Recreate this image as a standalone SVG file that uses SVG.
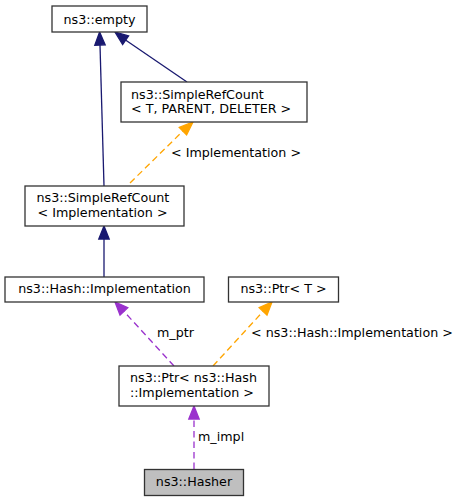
<svg xmlns="http://www.w3.org/2000/svg" width="462" height="501" viewBox="0 0 462 501">
<style>
.box{fill:#fff;stroke:#333;stroke-width:1.3}
.t{font-family:"DejaVu Sans",sans-serif;font-size:12.7px;fill:#000}
.m{text-anchor:middle}
.nav{stroke:#191970;stroke-width:1.3;fill:none}
.or{stroke:#ffa500;stroke-width:1.3;fill:none;stroke-dasharray:6.5,4}
.pu{stroke:#9a32cd;stroke-width:1.3;fill:none;stroke-dasharray:6.5,4}
</style>
<rect width="462" height="501" fill="#fff"/>
<g id="connectors">
  <line class="nav" x1="104" y1="186" x2="100" y2="45"/>
  <polygon points="94.8,45.2 99.6,32 105.2,44.8" fill="#191970" stroke="#191970" stroke-width="1.3"/>
  <line class="nav" x1="187" y1="82" x2="125.5" y2="40"/>
  <polygon points="122.6,44.5 115,32 128.6,35.9" fill="#191970" stroke="#191970" stroke-width="1.3"/>
  <line class="or" x1="130" y1="183" x2="183" y2="131"/>
  <polygon points="179.3,127.4 193,122 186.6,135" fill="#ffa500" stroke="#ffa500" stroke-width="1.3"/>
  <text class="t" x="171" y="157">&lt; Implementation &gt;</text>
  <line class="nav" x1="104" y1="277" x2="104" y2="239"/>
  <polygon points="98.8,239 104,226 109.2,239" fill="#191970" stroke="#191970" stroke-width="1.3"/>
  <line class="pu" x1="174" y1="366" x2="124" y2="311.5"/>
  <polygon points="120,315 115,302 127.8,307.6" fill="#9a32cd" stroke="#9a32cd" stroke-width="1.3"/>
  <text class="t" x="157" y="337">m_ptr</text>
  <line class="or" x1="213" y1="366" x2="263" y2="311.5"/>
  <polygon points="259.2,307.6 272,302 267,315" fill="#ffa500" stroke="#ffa500" stroke-width="1.3"/>
  <text class="t" x="251" y="337">&lt; ns3::Hash::Implementation &gt;</text>
  <line class="pu" x1="194" y1="469" x2="194" y2="419"/>
  <polygon points="188.8,419 194,406 199.2,419" fill="#9a32cd" stroke="#9a32cd" stroke-width="1.3"/>
  <text class="t" x="198" y="441">m_impl</text>
</g>
<g id="empty">
  <rect class="box" x="52" y="6" width="95" height="26"/>
  <text class="t m" x="99.5" y="23.5">ns3::empty</text>
</g>
<g id="srcTPD">
  <rect class="box" x="121" y="82" width="186" height="40"/>
  <text class="t" x="131" y="98.5">ns3::SimpleRefCount</text>
  <text class="t" x="131" y="113">&lt; T, PARENT, DELETER &gt;</text>
</g>
<g id="srcImpl">
  <rect class="box" x="25" y="186" width="159" height="40"/>
  <text class="t" x="36.5" y="202">ns3::SimpleRefCount</text>
  <text class="t" x="37.5" y="216.5">&lt; Implementation &gt;</text>
</g>
<g id="hashImpl">
  <rect class="box" x="5" y="277" width="199" height="25"/>
  <text class="t m" x="104.5" y="293">ns3::Hash::Implementation</text>
</g>
<g id="ptrT">
  <rect class="box" x="228.5" y="277" width="110" height="25"/>
  <text class="t m" x="283.5" y="293">ns3::Ptr&lt; T &gt;</text>
</g>
<g id="ptrHash">
  <rect class="box" x="119" y="366" width="150" height="40"/>
  <text class="t" x="130" y="382">ns3::Ptr&lt; ns3::Hash</text>
  <text class="t" x="130" y="396.5">::Implementation &gt;</text>
</g>
<g id="hasher">
  <rect class="box" x="144.5" y="469.5" width="99" height="26" style="fill:#bfbfbf"/>
  <text class="t m" x="194" y="486">ns3::Hasher</text>
</g>
</svg>
